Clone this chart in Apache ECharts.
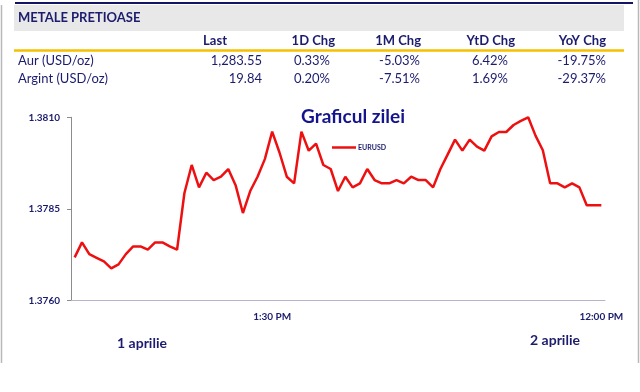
<!DOCTYPE html>
<html><head><meta charset="utf-8">
<script src="https://cdn.jsdelivr.net/npm/echarts@6/dist/echarts.min.js"></script>
<style>html,body{margin:0;padding:0;background:#fff}#c{width:640px;height:392px}</style>
</head><body><div id="c"></div>
<script>
// ---- table data ----
const tableTitle = "METALE PRETIOASE";
const tableHeaders = ["Last", "1D Chg", "1M Chg", "YtD Chg", "YoY Chg"];
const tableRows = ["Aur (USD/oz)", "Argint (USD/oz)"];
const aurValues = ["1,283.55", "0.33%", "-5.03%", "6.42%", "-19.75%"];
const argintValues = ["19.84", "0.20%", "-7.51%", "1.69%", "-29.37%"];

// ---- chart data ----
const chartTitle = "Graficul zilei";
const seriesName = "EURUSD";
const dayLabels = ["1 aprilie", "2 aprilie"];
const times = [
 "12:00 AM","12:30 AM","1:00 AM","1:30 AM","2:00 AM","2:30 AM","3:00 AM","3:30 AM",
 "4:00 AM","4:30 AM","5:00 AM","5:30 AM","6:00 AM","6:30 AM","7:00 AM","7:30 AM",
 "8:00 AM","8:30 AM","9:00 AM","9:30 AM","10:00 AM","10:30 AM","11:00 AM","11:30 AM",
 "12:00 PM","12:30 PM","1:00 PM","1:30 PM","2:00 PM","2:30 PM","3:00 PM","3:30 PM",
 "4:00 PM","4:30 PM","5:00 PM","5:30 PM","6:00 PM","6:30 PM","7:00 PM","7:30 PM",
 "8:00 PM","8:30 PM","9:00 PM","9:30 PM","10:00 PM","10:30 PM","11:00 PM","11:30 PM",
 "12:00 AM","12:30 AM","1:00 AM","1:30 AM","2:00 AM","2:30 AM","3:00 AM","3:30 AM",
 "4:00 AM","4:30 AM","5:00 AM","5:30 AM","6:00 AM","6:30 AM","7:00 AM","7:30 AM",
 "8:00 AM","8:30 AM","9:00 AM","9:30 AM","10:00 AM","10:30 AM","11:00 AM","11:30 AM",
 "12:00 PM"
];
const eurusd = [
 1.37718,1.37759,1.37727,1.37717,1.37707,1.37688,1.37699,1.37727,
 1.37748,1.37748,1.37739,1.37759,1.37759,1.37748,1.37739,1.37893,
 1.37970,1.37909,1.37949,1.37929,1.37938,1.37959,1.37915,1.37839,
 1.37899,1.37938,1.37986,1.38061,1.38004,1.37938,1.37920,1.38061,
 1.38009,1.38028,1.37970,1.37959,1.37899,1.37938,1.37909,1.37920,
 1.37959,1.37929,1.37920,1.37920,1.37929,1.37920,1.37938,1.37929,
 1.37929,1.37909,1.37959,1.37999,1.38039,1.38009,1.38039,1.38020,
 1.38009,1.38048,1.38060,1.38060,1.38079,1.38090,1.38100,1.38050,
 1.38010,1.37920,1.37920,1.37909,1.37920,1.37909,1.37860,1.37860,
 1.37860
];
const yMin = 1.3760, yMax = 1.3810, yStep = 0.0025;

const navy = '#1c1c6e';
const tf = 'Lato, "Liberation Sans", sans-serif';

const chart = echarts.init(document.getElementById('c'), null, {renderer: 'canvas'});

const g = [];
// frame lines
g.push({type:'line', shape:{x1:15,y1:3,x2:633,y2:3}, style:{stroke:'#141464', lineWidth:2}, silent:true});
g.push({type:'line', shape:{x1:1.5,y1:5,x2:1.5,y2:363}, style:{stroke:'#b8b8b8', lineWidth:1.5}, silent:true});
g.push({type:'line', shape:{x1:638.5,y1:0,x2:638.5,y2:363}, style:{stroke:'#b8b8b8', lineWidth:1.5}, silent:true});
// table header band
g.push({type:'rect', shape:{x:14,y:5,width:610,height:26}, style:{fill:'#e8e8e8'}, silent:true});
g.push({type:'text', style:{text:tableTitle, x:18, y:18, fill:'#1c1c6e', font:'bold 13px '+tf, verticalAlign:'middle'}});
// column headers (right-aligned ends)
const colRight = [227, 335, 421, 515, 606];
tableHeaders.forEach((h,i)=>{
  g.push({type:'text', style:{text:h, x:colRight[i], y:41, fill:navy, font:'bold 13px '+tf, align:'right', verticalAlign:'middle'}});
});
g.push({type:'line', shape:{x1:14,y1:50.5,x2:624,y2:50.5}, style:{stroke:'#f5c000', lineWidth:2.5}, silent:true});
const valRight = [262, 330, 420, 508, 606];
[aurValues, argintValues].forEach((vals,r)=>{
  const y = 61 + r*18;
  g.push({type:'text', style:{text:tableRows[r], x:18, y:y, fill:navy, font:'13px '+tf, verticalAlign:'middle'}});
  vals.forEach((v,i)=>{
    g.push({type:'text', style:{text:v, x:valRight[i], y:y, fill:navy, font:'13px '+tf, align:'right', verticalAlign:'middle'}});
  });
});
// day labels
g.push({type:'text', style:{text:dayLabels[0], x:142, y:343, fill:navy, font:'bold 14px '+tf, align:'center', verticalAlign:'middle'}});
g.push({type:'text', style:{text:dayLabels[1], x:555, y:340, fill:navy, font:'bold 14px '+tf, align:'center', verticalAlign:'middle'}});

chart.setOption({
  animation:false,
  title:{text:chartTitle, left:348, top:102, textAlign:'center',
    textStyle:{color:'#14148c', fontSize:19, fontWeight:'bold', fontFamily:tf}},
  legend:{data:[seriesName], left:327, top:139, icon:'rect', itemWidth:24, itemHeight:2.5, itemGap:4,
    textStyle:{color:navy, fontSize:7, fontWeight:'bold', fontFamily:tf, padding:[0,0,0,-3]}},
  grid:{left:71, right:35, top:117.3, bottom:91.3},
  xAxis:{type:'category', data:times, boundaryGap:true,
    axisLine:{lineStyle:{color:'#b4b4cc', width:1}},
    axisTick:{show:false},
    axisLabel:{interval:(i)=> i%45===27, color:navy, fontSize:10, fontWeight:'bold', fontFamily:tf, margin:11},
    splitLine:{show:false}},
  yAxis:{type:'value', min:yMin, max:yMax, interval:yStep,
    axisLine:{show:true, lineStyle:{color:'#8c8c8c', width:1}},
    axisTick:{show:true, inside:false, length:4, lineStyle:{color:'#8c8c8c'}},
    axisLabel:{color:navy, fontSize:10, fontWeight:'bold', fontFamily:tf, margin:11, formatter:(v)=>v.toFixed(4)},
    splitLine:{show:false}},
  series:[{name:seriesName, type:'line', data:eurusd, symbol:'none', showSymbol:false,
    lineStyle:{color:'#ee1010', width:2.5}, itemStyle:{color:'#ee1010'}}],
  graphic:g
});
</script></body></html>
